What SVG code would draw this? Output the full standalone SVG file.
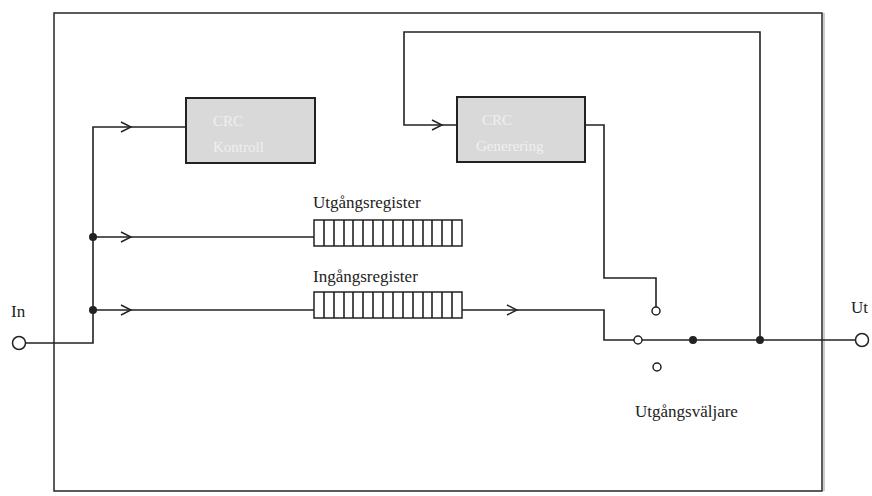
<svg xmlns="http://www.w3.org/2000/svg" width="872" height="496" viewBox="0 0 872 496">
<style>
.ln{fill:none;stroke:#222;stroke-width:1.6}
.ar{fill:none;stroke:#222;stroke-width:1.4}
.box{fill:#d9d9d9;stroke:#222;stroke-width:2}
.bt{font-family:"Liberation Serif",serif;font-size:15px;fill:#f0f0f0}
.t{font-family:"Liberation Serif",serif;font-size:17px;fill:#222}
.reg{fill:#fff;stroke:#222;stroke-width:1.5}
.oc{fill:#fff;stroke:#222;stroke-width:1.5}
.dot{fill:#222}
</style>
<defs>
<path id="chev" d="M-10,-5 L0,0 L-10,5" class="ar"/>
</defs>
<rect x="54" y="13" width="768" height="478" fill="none" stroke="#333" stroke-width="1.6"/>
<line x1="824" y1="13" x2="824" y2="491" stroke="#bbb" stroke-width="1.5"/>

<g id="connectors">
<path class="ln" d="M25,343 H93 V127 H186"/>
<path class="ln" d="M93,237 H314"/>
<path class="ln" d="M93,310 H314"/>
<path class="ln" d="M462,310 H604 V340 H634"/>
<path class="ln" d="M585,125 H604 V278 H656 V307"/>
<path class="ln" d="M642,340 H856"/>
<path class="ln" d="M760,340 V32 H404 V125 H457"/>
<use href="#chev" x="131" y="127"/>
<use href="#chev" x="131" y="237"/>
<use href="#chev" x="131" y="310"/>
<use href="#chev" x="442" y="125"/>
<use href="#chev" x="517" y="310"/>
<circle class="dot" cx="93" cy="237" r="4"/>
<circle class="dot" cx="93" cy="310" r="4"/>
<circle class="dot" cx="693" cy="340" r="4"/>
<circle class="dot" cx="760" cy="340" r="4"/>
</g>

<g id="in">
<circle class="oc" cx="19" cy="343" r="6.5"/>
<text class="t" x="11" y="317">In</text>
</g>
<g id="ut">
<circle class="oc" cx="862" cy="340" r="6.5"/>
<text class="t" x="851" y="313">Ut</text>
</g>

<g id="crc-kontroll">
<rect class="box" x="186" y="98" width="129" height="65"/>
<text class="bt" x="213" y="126">CRC</text>
<text class="bt" x="213" y="152">Kontroll</text>
</g>
<g id="crc-generering">
<rect class="box" x="457" y="97" width="128" height="65"/>
<text class="bt" x="482" y="125">CRC</text>
<text class="bt" x="476" y="151">Generering</text>
</g>

<g id="utgangsregister">
<text class="t" x="313" y="208">Utgångsregister</text>
<rect class="reg" x="314" y="220" width="148" height="26"/>
<path class="ln" stroke-width="1.3" d="M324,220V246M334,220V246M344,220V246M353,220V246M363,220V246M373,220V246M383,220V246M393,220V246M403,220V246M413,220V246M423,220V246M432,220V246M442,220V246M452,220V246"/>
</g>
<g id="ingangsregister">
<text class="t" x="313" y="282">Ingångsregister</text>
<rect class="reg" x="314" y="292" width="148" height="26"/>
<path class="ln" stroke-width="1.3" d="M324,292V318M334,292V318M344,292V318M353,292V318M363,292V318M373,292V318M383,292V318M393,292V318M403,292V318M413,292V318M423,292V318M432,292V318M442,292V318M452,292V318"/>
</g>

<g id="utgangsvaljare">
<circle class="oc" cx="638" cy="340" r="4"/>
<circle class="oc" cx="656" cy="311" r="4"/>
<circle class="oc" cx="657" cy="367" r="4"/>
<text class="t" x="635" y="417">Utgångsväljare</text>
</g>
</svg>
